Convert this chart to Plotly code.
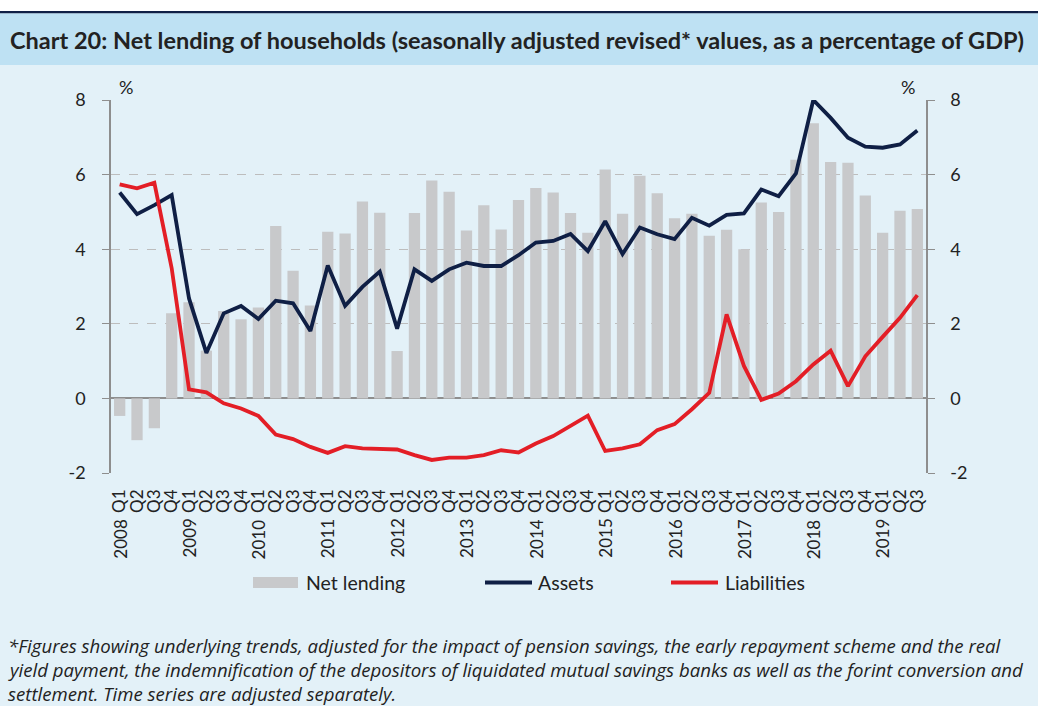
import plotly.graph_objects as go

years = [str(y) for y in range(2008, 2020)]
quarters = ["Q1", "Q2", "Q3", "Q4"]
categories = [f"{y} {q}" for y in years for q in quarters][:47]
quarter_labels = [c.split(" ")[1] for c in categories]

net_lending = [-0.47, -1.12, -0.80, 2.28,
               2.58, 1.28, 2.34, 2.12,
               2.44, 4.62, 3.42, 2.49,
               4.47, 4.42, 5.28, 4.98,
               1.27, 4.97, 5.84, 5.54,
               4.50, 5.18, 4.53, 5.32,
               5.64, 5.52, 4.97, 4.44,
               6.14, 4.95, 5.97, 5.50,
               4.83, 4.95, 4.36, 4.52,
               4.00, 5.25, 5.00, 6.40,
               7.38, 6.34, 6.32, 5.44,
               4.44, 5.03, 5.08]

assets = [5.52, 4.94, 5.18, 5.45,
          2.68, 1.22, 2.28, 2.48,
          2.13, 2.62, 2.55, 1.81,
          3.56, 2.48, 2.99, 3.40,
          1.87, 3.46, 3.15, 3.46,
          3.64, 3.55, 3.55, 3.84,
          4.18, 4.22, 4.41, 3.95,
          4.75, 3.87, 4.58, 4.40,
          4.27, 4.84, 4.63, 4.92,
          4.96, 5.60, 5.42, 6.03,
          8.00, 7.52, 6.99, 6.75,
          6.72, 6.81, 7.18]

liabilities = [5.74, 5.63, 5.78, 3.49,
               0.24, 0.16, -0.13, -0.27,
               -0.47, -0.97, -1.09, -1.30,
               -1.46, -1.28, -1.34, -1.36,
               -1.37, -1.52, -1.65, -1.59,
               -1.59, -1.52, -1.39, -1.45,
               -1.21, -1.01, -0.72, -0.46,
               -1.41, -1.34, -1.23, -0.85,
               -0.69, -0.29, 0.15, 2.25,
               0.87, -0.04, 0.13, 0.46,
               0.91, 1.28, 0.33, 1.13,
               1.65, 2.16, 2.77]

y_ticks = [-2, 0, 2, 4, 6, 8]
y_tick_labels = ["-2", "0", "2", "4", "6", "8"]

title_text = "Chart 20: Net lending of households (seasonally adjusted revised* values, as a percentage of GDP)"
footnote_lines = [
    "*Figures showing underlying trends, adjusted for the impact of pension savings, the early repayment scheme and the real",
    "yield payment, the indemnification of the depositors of liquidated mutual savings banks as well as the forint conversion and",
    "settlement. Time series are adjusted separately.",
]

BG = "#E3F1F8"
BAND = "#BEE1F3"
NAVY = "#0F1F45"
RED = "#E31E26"
GREY = "#C8C9CB"
AXIS = "#8E8E8E"
TXT = "#222222"
FONT = "Lato"

W, H = 1038, 706
L, R, T, B = 111, 112, 100, 233
PW, PH = W - L - R, H - T - B


def px(x):
    return (x - L) / PW


def py(y):
    return (H - B - y) / PH


x_idx = list(range(len(categories)))

fig = go.Figure()
fig.add_trace(go.Bar(x=x_idx, y=net_lending, name="Net lending",
                     marker=dict(color=GREY, line=dict(width=0)), width=0.65))
fig.add_trace(go.Scatter(x=x_idx, y=assets, name="Assets", mode="lines",
                         line=dict(color=NAVY, width=3.8)))
fig.add_trace(go.Scatter(x=x_idx, y=liabilities, name="Liabilities", mode="lines",
                         line=dict(color=RED, width=3.8), yaxis="y2"))

axis_common = dict(range=[-2, 8], tickvals=y_ticks, ticktext=y_tick_labels,
                   ticks="outside", ticklen=7,
                   tickcolor=AXIS, showline=True, linecolor=AXIS, linewidth=1.5,
                   tickfont=dict(family=FONT, size=18, color=TXT))

fig.update_layout(
    width=W, height=H,
    margin=dict(l=L, r=R, t=T, b=B, pad=0),
    paper_bgcolor=BG, plot_bgcolor=BG,
    showlegend=False,
    bargap=0.35,
    font=dict(family=FONT, color=TXT),
    xaxis=dict(range=[-0.5, 46.5], tickvals=x_idx, ticktext=quarter_labels,
               tickangle=-90, showgrid=False, zeroline=False, showline=False,
               ticks="", ticklabelstandoff=12,
               tickfont=dict(family=FONT, size=17, color=TXT)),
    yaxis=dict(**axis_common, side="left", showgrid=True, gridcolor="#BDBDBD",
               griddash="dash", gridwidth=1.2, zeroline=True, zerolinecolor=AXIS,
               zerolinewidth=1.5, ticklabelstandoff=13),
    yaxis2=dict(**axis_common, side="right", overlaying="y", showgrid=False,
                zeroline=False, ticklabelstandoff=12),
)

shapes = [
    dict(type="rect", xref="paper", yref="paper", x0=px(0), x1=px(W), y0=py(0), y1=py(11),
         fillcolor="white", line=dict(width=0), layer="below"),
    dict(type="rect", xref="paper", yref="paper", x0=px(0), x1=px(W), y0=py(11), y1=py(13.5),
         fillcolor=NAVY, line=dict(width=0), layer="below"),
    dict(type="rect", xref="paper", yref="paper", x0=px(0), x1=px(W), y0=py(13.5), y1=py(65),
         fillcolor=BAND, line=dict(width=0), layer="below"),
    # legend symbols
    dict(type="rect", xref="paper", yref="paper", x0=px(253), x1=px(298), y0=py(577), y1=py(588),
         fillcolor=GREY, line=dict(width=0)),
    dict(type="line", xref="paper", yref="paper", x0=px(485), x1=px(532), y0=py(582.5), y1=py(582.5),
         line=dict(color=NAVY, width=4)),
    dict(type="line", xref="paper", yref="paper", x0=px(671), x1=px(718), y0=py(582.5), y1=py(582.5),
         line=dict(color=RED, width=4)),
]

annotations = [
    dict(text=f"<b>{title_text}</b>", x=px(8), y=py(40), xref="paper", yref="paper",
         xanchor="left", yanchor="middle", showarrow=False,
         font=dict(family=FONT, size=23.5, color=TXT)),
    dict(text="%", x=px(126), y=py(87), xref="paper", yref="paper", showarrow=False,
         xanchor="center", yanchor="middle", font=dict(family=FONT, size=18, color=TXT)),
    dict(text="%", x=px(908), y=py(87), xref="paper", yref="paper", showarrow=False,
         xanchor="center", yanchor="middle", font=dict(family=FONT, size=18, color=TXT)),
    dict(text="Net lending", x=px(304), y=py(582.5), xref="paper", yref="paper", showarrow=False,
         xanchor="left", yanchor="middle", font=dict(family=FONT, size=19.5, color=TXT)),
    dict(text="Assets", x=px(536), y=py(582.5), xref="paper", yref="paper", showarrow=False,
         xanchor="left", yanchor="middle", font=dict(family=FONT, size=19.5, color=TXT)),
    dict(text="Liabilities", x=px(723), y=py(582.5), xref="paper", yref="paper", showarrow=False,
         xanchor="left", yanchor="middle", font=dict(family=FONT, size=19.5, color=TXT)),
]

for i, c in enumerate(categories):
    if c.endswith("Q1"):
        annotations.append(dict(text=c.split(" ")[0], x=i, xref="x", y=py(517), yref="paper",
                                textangle=-90, xanchor="center", yanchor="top", showarrow=False,
                                font=dict(family=FONT, size=17, color=TXT)))

for line, yy in zip(footnote_lines, [645, 669, 693]):
    annotations.append(dict(text=f"<i>{line}</i>", x=px(6), y=py(yy), xref="paper", yref="paper",
                            xanchor="left", yanchor="middle", showarrow=False,
                            font=dict(family="Open Sans", size=18.6, color=TXT)))

fig.update_layout(shapes=shapes, annotations=annotations)

fig.write_html("out.html", config={"displayModeBar": False},
               post_script="document.body.style.margin='0';document.body.style.background='" + BG + "';")
